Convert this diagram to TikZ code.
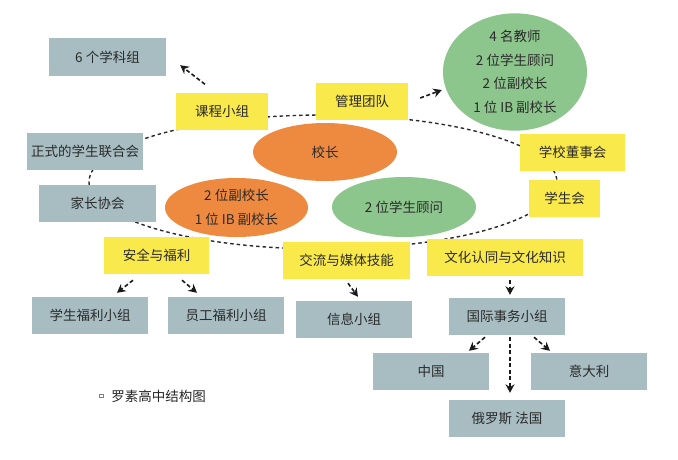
\documentclass[tikz,border=0pt]{standalone}
\usepackage{fontspec}
\setmainfont{Noto Sans CJK SC}
\usetikzlibrary{shapes.geometric,arrows.meta,calc}
\definecolor{boxgray}{HTML}{A8BDC2}
\definecolor{boxyel}{HTML}{FAE94B}
\definecolor{ovorange}{HTML}{EE8A40}
\definecolor{ovgreen}{HTML}{8DC68D}
\definecolor{txt}{HTML}{2A2A2A}
\definecolor{ringc}{HTML}{2A2A2A}
\definecolor{arrc}{HTML}{1A1A1A}
\begin{document}
\begin{tikzpicture}[x=1pt,y=-1pt,
  every node/.style={font=\fontsize{13.5}{23.5}\selectfont, text=txt},
  graybox/.style={fill=boxgray, minimum width=116pt, minimum height=37pt, inner sep=0pt},
  yelbox/.style={fill=boxyel, minimum height=37pt, inner sep=0pt},
  oval/.style={ellipse, inner sep=0pt, align=center},
  ring/.style={draw=ringc, line width=1.4pt, dash pattern=on 3.5pt off 3pt},
  arr/.style={draw=arrc, line width=1.6pt, dash pattern=on 4pt off 2.5pt, -{Stealth[length=8.5pt,width=9pt]}}]
\useasboundingbox[fill=white] (0,0) rectangle (678,459);
% ring
\coordinate (ringc) at (323,182);
\draw[ring] (ringc) ellipse [x radius=234, y radius=67];
% gray boxes
\node[graybox,minimum width=117pt,minimum height=38pt] (xk) at (107.5,57) {6 个学科组};
\node[graybox] (zs) at (85,151.5) {正式的学生联合会};
\node[graybox,minimum width=117pt] (jz) at (97.5,203.5) {家长协会};
\node[graybox] (xsfl) at (90,315.5) {学生福利小组};
\node[graybox] (ygfl) at (226,315.5) {员工福利小组};
\node[graybox] (xx) at (354,319.5) {信息小组};
\node[graybox] (gj) at (507,316.5) {国际事务小组};
\node[graybox] (zg) at (431,371.5) {中国};
\node[graybox] (ydl) at (589,371.5) {意大利};
\node[graybox] (elf) at (507,418.5) {俄罗斯 法国};
% yellow boxes
\node[yelbox,minimum width=92pt] (kc) at (222,111) {课程小组};
\node[yelbox,minimum width=92pt] (gl) at (362,101.5) {管理团队};
\node[yelbox,minimum width=105pt] (dsh) at (572.5,152.5) {学校董事会};
\node[yelbox,minimum width=71pt] (xsh) at (564.5,198.5) {学生会};
\node[yelbox,minimum width=105pt] (aq) at (156.5,255.5) {安全与福利};
\node[yelbox,minimum width=127pt] (jl) at (346.5,260.5) {交流与媒体技能};
\node[yelbox,minimum width=156pt] (wh) at (505,257.5) {文化认同与文化知识};
% ellipses
\node[oval,fill=ovorange,minimum width=144pt,minimum height=58pt] (xz) at (325,152) {校长};
\node[oval,fill=ovorange,minimum width=143pt,minimum height=59pt] (fxz) at (236.5,207.5) {2 位副校长\\1 位 IB 副校长};
\node[oval,fill=ovgreen,minimum width=144pt,minimum height=60pt] (gw) at (404,207) {2 位学生顾问};
\node[oval,fill=ovgreen,minimum width=144pt,minimum height=110pt] (team) at (515,72) {4 名教师\\2 位学生顾问\\2 位副校长\\1 位 IB 副校长};
% arrows
\draw[arr] ($(kc.north)+(-17,-8)$) -- ($(xk.south east)+(14,-11)$);
\draw[arr] ($(gl.east)+(12,-3.5)$) -- ($(team.west)+(-1,18)$);
\draw[arr] ($(aq.south)+(-23.5,6)$) -- ($(xsfl.north)+(27,-4)$);
\draw[arr] ($(aq.south)+(25.5,6)$) -- ($(ygfl.north)+(-29,-4)$);
\draw[arr] ($(jl.south)+(1.5,4)$) -- ($(xx.north)+(4,-4)$);
\draw[arr] ($(wh.south)+(5,4)$) -- ($(gj.north)+(3,-3)$);
\draw[arr] ($(gj.south)+(-22,2)$) -- ($(zg.north)+(38,-2)$);
\draw[arr] ($(gj.south)+(27,2)$) -- ($(ydl.north)+(-39,-2)$);
\draw[arr] ($(gj.south)+(3,2)$) -- ($(elf.north)+(3,-7)$);
% caption
\node[draw=gray, line width=0.6pt, minimum size=3.5pt, inner sep=0pt] (bul) at (101.5,396) {};
\node[font=\fontsize{13.5}{16}\selectfont, text=black!85] (cap) at (158.5,396) {罗素高中结构图};
\end{tikzpicture}
\end{document}
